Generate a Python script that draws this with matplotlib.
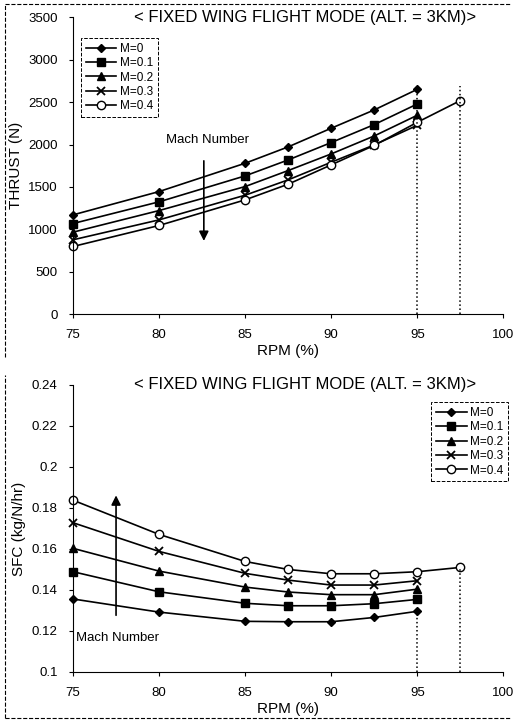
import numpy as np
import matplotlib.pyplot as plt
from matplotlib.ticker import FuncFormatter

plt.rcParams['font.family'] = ['Liberation Sans', 'DejaVu Sans']

rpm = [75, 80, 85, 87.5, 90, 92.5, 95]
rpm_04 = [75, 80, 85, 87.5, 90, 92.5, 95, 97.5]
labels = ['M=0', 'M=0.1', 'M=0.2', 'M=0.3', 'M=0.4']

thrust_m0 = [1170, 1445, 1779, 1972, 2192, 2408, 2651]
thrust_m01 = [1068, 1324, 1630, 1818, 2023, 2235, 2478]
thrust_m02 = [966, 1221, 1504, 1693, 1889, 2101, 2345]
thrust_m03 = [876, 1111, 1402, 1583, 1791, 1995, 2227]
thrust_m04 = [797, 1045, 1347, 1532, 1760, 1990, 2262, 2518]

sfc_m0 = [0.1356, 0.1292, 0.1247, 0.1245, 0.1245, 0.1266, 0.1296]
sfc_m01 = [0.1489, 0.1391, 0.1335, 0.1323, 0.1323, 0.1333, 0.1354]
sfc_m02 = [0.1603, 0.1492, 0.1414, 0.1390, 0.1377, 0.1377, 0.1404]
sfc_m03 = [0.1728, 0.1588, 0.1481, 0.1448, 0.1424, 0.1424, 0.1445]
sfc_m04 = [0.1838, 0.1671, 0.1539, 0.1500, 0.1479, 0.1479, 0.1489, 0.1510]

styles = [dict(marker='D', ms=4.5, mfc='k'),
          dict(marker='s', ms=6, mfc='k'),
          dict(marker='^', ms=6, mfc='k'),
          dict(marker='x', ms=6, mew=1.3),
          dict(marker='o', ms=6, mfc='white')]

fig = plt.figure(figsize=(5.16, 7.22), dpi=100)
ax1 = fig.add_axes([0.1415, 0.565, 0.834, 0.411])
ax2 = fig.add_axes([0.1415, 0.0693, 0.834, 0.3975])

title = '< FIXED WING FLIGHT MODE (ALT. = 3KM)>'


def setup(ax):
    ax.spines['top'].set_visible(False)
    ax.spines['right'].set_visible(False)
    ax.spines['left'].set_linewidth(0.8)
    ax.spines['bottom'].set_linewidth(0.8)
    ax.set_xlim(75, 100)
    ax.set_xticks([75, 80, 85, 90, 95, 100])
    ax.tick_params(labelsize=9.5, length=3, width=0.8, pad=8)
    ax.set_xlabel('RPM (%)', fontsize=11, labelpad=2)


def legend(ax, **kw):
    leg = ax.legend(fontsize=8.5, handlelength=2.6, handletextpad=0.3,
                    labelspacing=0.2, borderpad=0.4, fancybox=False,
                    framealpha=1, **kw)
    leg.get_frame().set_edgecolor('k')
    leg.get_frame().set_linestyle('--')
    leg.get_frame().set_linewidth(0.7)


# thrust
thrust = [thrust_m0, thrust_m01, thrust_m02, thrust_m03]
for y, lab, st in zip(thrust, labels, styles):
    ax1.plot(rpm, y, color='k', lw=1.2, label=lab, clip_on=False, **st)
ax1.plot(rpm_04, thrust_m04, color='k', lw=1.2, label=labels[4], clip_on=False, **styles[4])
ax1.vlines([95, 97.5], 0, [2675, 2690], colors='k', linestyles=':', lw=1.1)
setup(ax1)
ax1.set_ylim(0, 3500)
ax1.set_yticks(np.arange(0, 3501, 500))
ax1.set_ylabel('THRUST (N)', fontsize=11, labelpad=4)
ax1.text(0.54, 1.0, title, transform=ax1.transAxes, ha='center', va='center', fontsize=12)
ax1.annotate('', xy=(82.6, 830), xytext=(82.6, 1840),
             arrowprops=dict(arrowstyle='-|>', color='k', lw=1.2, mutation_scale=14))
ax1.text(82.8, 2050, 'Mach Number', ha='center', va='center', fontsize=9.5)
legend(ax1, loc='upper left', bbox_to_anchor=(0.005, 0.95))

# sfc
sfc = [sfc_m0, sfc_m01, sfc_m02, sfc_m03]
for y, lab, st in zip(sfc, labels, styles):
    ax2.plot(rpm, y, color='k', lw=1.2, label=lab, clip_on=False, **st)
ax2.plot(rpm_04, sfc_m04, color='k', lw=1.2, label=labels[4], clip_on=False, **styles[4])
ax2.vlines([95, 97.5], 0.1, [sfc_m0[-1], sfc_m04[-1]], colors='k', linestyles=':', lw=1.1)
setup(ax2)
ax2.set_ylim(0.1, 0.24)
ax2.set_yticks(np.arange(0.10, 0.2401, 0.02))
ax2.yaxis.set_major_formatter(FuncFormatter(lambda v, p: '%g' % round(v, 2)))
ax2.set_ylabel('SFC (kg/N/hr)', fontsize=11, labelpad=4)
ax2.text(0.54, 1.0, title, transform=ax2.transAxes, ha='center', va='center', fontsize=12)
ax2.annotate('', xy=(77.5, 0.1875), xytext=(77.5, 0.1263),
             arrowprops=dict(arrowstyle='-|>', color='k', lw=1.2, mutation_scale=14))
ax2.text(75.2, 0.1166, 'Mach Number', ha='left', va='center', fontsize=9.5)
legend(ax2, loc='upper right', bbox_to_anchor=(1.025, 0.96))

# scanned page frame lines
fig.add_artist(plt.Line2D([0.01, 0.01], [0.505, 0.995], color='k', lw=0.8, ls='--'))
fig.add_artist(plt.Line2D([0.01, 0.99], [0.995, 0.995], color='k', lw=0.8, ls='--'))
fig.add_artist(plt.Line2D([0.01, 0.01], [0.005, 0.48], color='k', lw=0.8, ls='--'))
fig.add_artist(plt.Line2D([0.01, 0.99], [0.005, 0.005], color='k', lw=0.8, ls='--'))

fig.savefig('out.png', dpi=100)
